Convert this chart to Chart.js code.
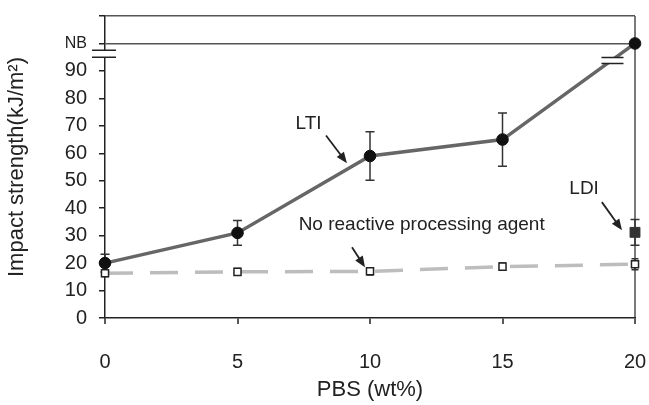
<!DOCTYPE html>
<html>
<head>
<meta charset="utf-8">
<script src="https://cdn.jsdelivr.net/npm/chart.js@4.4.1/dist/chart.umd.min.js"></script>
<style>
  html, body { margin: 0; padding: 0; background: #fff; }
  #wrap { width: 649px; height: 405px; position: relative; }
</style>
</head>
<body>
<div id="wrap"><canvas id="chart"></canvas></div>
<script>
/* data */
const pbs = [0, 5, 10, 15, 20]            // PBS wt%
const NB = 100                           // level used for the "NB" (no break) row
const yTop = 110
const lti = [20, 31, 59, 65, NB]
const ltiErr = [3.2, 4.5, 8.8, 9.7, 0]
const noAgent = [16.3, 16.8, 17, 18.7, 19.6]
const noAgentErr = [1.2, 1.2, 1.3, 1.3, 2]
const ldiX = [20]
const ldi = [31.2]
const ldiErr = [4.7]
const yTicks = [0, 10, 20, 30, 40, 50, 60, 70, 80, 90, NB, yTop]
const xTicks = [0, 5, 10, 15, 20]
// axis break marks (in data units)
const axisBreak = [95, 97.5]
const lineBreak = { x: 19.15, y: [92.7, 94.9] }
// labels with arrows, placed in data units
const notes = [
  { text: 'LTI', x: 7.68, y: 70.7, from: [8.34, 66.5], to: [9.13, 56.4] },
  { text: 'No reactive processing agent', x: 11.95, y: 33.8, from: [9.32, 25.8], to: [9.81, 18.5] },
  { text: 'LDI', x: 18.08, y: 47.2, from: [18.75, 42.2], to: [19.51, 32] }
]

const family = "'Liberation Sans', Arial, sans-serif"
const pts = (xs, ys) => xs.map((x, i) => ({ x: x, y: ys[i] }))

/* error bars, drawn under the markers */
const errorBars = {
  id: 'errorBars',
  beforeDatasetsDraw(chart) {
    const ctx = chart.ctx
    const xs = chart.scales.x, ys = chart.scales.y
    const sets = [[0, ltiErr, 4.5], [1, noAgentErr, 3.5], [2, ldiErr, 4.5]]
    ctx.save()
    ctx.strokeStyle = '#333'
    ctx.lineWidth = 1.5
    sets.forEach(([di, errs, cap]) => {
      chart.data.datasets[di].data.forEach((p, i) => {
        const e = errs[i]
        if (!e) return
        const px = xs.getPixelForValue(p.x)
        const y1 = ys.getPixelForValue(p.y + e)
        const y2 = ys.getPixelForValue(p.y - e)
        ctx.beginPath()
        ctx.moveTo(px, y1); ctx.lineTo(px, y2)
        ctx.moveTo(px - cap, y1); ctx.lineTo(px + cap, y1)
        ctx.moveTo(px - cap, y2); ctx.lineTo(px + cap, y2)
        ctx.stroke()
      })
    })
    ctx.restore()
  }
}

/* axis break, line break, labels and arrows */
const extras = {
  id: 'extras',
  afterDraw(chart) {
    const ctx = chart.ctx
    const xs = chart.scales.x, ys = chart.scales.y
    ctx.save()
    // break on the y axis
    const ax = xs.left
    const b1 = ys.getPixelForValue(axisBreak[1]), b2 = ys.getPixelForValue(axisBreak[0])
    ctx.fillStyle = '#fff'
    ctx.fillRect(ax - 3, b1, 6, b2 - b1)
    ctx.strokeStyle = '#222'
    ctx.lineWidth = 1.5
    ctx.beginPath()
    ctx.moveTo(ax - 13, b1); ctx.lineTo(ax + 11, b1)
    ctx.moveTo(ax - 13, b2); ctx.lineTo(ax + 11, b2)
    ctx.stroke()
    // break on the LTI line
    const lx = xs.getPixelForValue(lineBreak.x)
    const l1 = ys.getPixelForValue(lineBreak.y[1]), l2 = ys.getPixelForValue(lineBreak.y[0])
    ctx.fillRect(lx - 11, l1, 22, l2 - l1)
    ctx.beginPath()
    ctx.moveTo(lx - 11, l1); ctx.lineTo(lx + 11, l1)
    ctx.moveTo(lx - 11, l2); ctx.lineTo(lx + 11, l2)
    ctx.stroke()
    // labels
    ctx.fillStyle = '#222'
    ctx.font = '19px ' + family
    ctx.textAlign = 'center'
    ctx.textBaseline = 'middle'
    notes.forEach(n => {
      ctx.fillText(n.text, xs.getPixelForValue(n.x), ys.getPixelForValue(n.y))
      const x1 = xs.getPixelForValue(n.from[0]), y1 = ys.getPixelForValue(n.from[1])
      const x2 = xs.getPixelForValue(n.to[0]), y2 = ys.getPixelForValue(n.to[1])
      const a = Math.atan2(y2 - y1, x2 - x1)
      ctx.strokeStyle = '#222'
      ctx.lineWidth = 1.8
      ctx.beginPath()
      ctx.moveTo(x1, y1)
      ctx.lineTo(x2 - 8 * Math.cos(a), y2 - 8 * Math.sin(a))
      ctx.stroke()
      ctx.beginPath()
      ctx.moveTo(x2, y2)
      ctx.lineTo(x2 - 11 * Math.cos(a) + 4.5 * Math.sin(a), y2 - 11 * Math.sin(a) - 4.5 * Math.cos(a))
      ctx.lineTo(x2 - 11 * Math.cos(a) - 4.5 * Math.sin(a), y2 - 11 * Math.sin(a) + 4.5 * Math.cos(a))
      ctx.closePath()
      ctx.fill()
    })
    ctx.restore()
  }
}

const chart = new Chart(document.getElementById('chart'), {
  type: 'line',
  data: {
    datasets: [
      {
        label: 'LTI',
        data: pts(pbs, lti),
        borderColor: '#666',
        borderWidth: 3.5,
        pointStyle: 'circle',
        pointRadius: 5.8,
        pointBackgroundColor: '#111',
        pointBorderColor: '#111',
        pointBorderWidth: 1,
        tension: 0,
        clip: false
      },
      {
        label: 'No reactive processing agent',
        data: pts(pbs, noAgent),
        borderColor: '#bdbdbd',
        borderWidth: 3.5,
        borderDash: [28, 17],
        pointStyle: 'rect',
        pointRadius: 5,
        pointBackgroundColor: '#fff',
        pointBorderColor: '#222',
        pointBorderWidth: 1.5,
        tension: 0,
        clip: false
      },
      {
        label: 'LDI',
        data: pts(ldiX, ldi),
        showLine: false,
        pointStyle: 'rect',
        pointRadius: 7,
        pointBackgroundColor: '#333',
        pointBorderColor: '#333',
        clip: false
      }
    ]
  },
  options: {
    responsive: true,
    maintainAspectRatio: false,
    animation: false,
    layout: { padding: { top: 16, right: 14, left: 0, bottom: 0 } },
    plugins: { legend: { display: false }, tooltip: { enabled: false } },
    scales: {
      x: {
        type: 'linear',
        min: 0,
        max: 20,
        afterBuildTicks: s => { s.ticks = xTicks.map(v => ({ value: v })) },
        afterFit: s => { s.height = 87; s.paddingLeft = 0; s.paddingRight = 0 },
        ticks: { color: '#222', font: { size: 20, family: family }, padding: 26, maxRotation: 0 },
        grid: {
          color: c => (c.tick && c.tick.value === 20) ? '#7a7a7a' : 'rgba(0,0,0,0)',
          lineWidth: 2,
          tickColor: '#222',
          tickWidth: 1.5,
          tickLength: 6
        },
        border: { color: '#222', width: 1.5 },
        title: { display: true, text: 'PBS (wt%)', color: '#222', font: { size: 22, family: family }, padding: { top: 0, bottom: 2 } }
      },
      y: {
        type: 'linear',
        min: 0,
        max: yTop,
        afterBuildTicks: s => { s.ticks = yTicks.map(v => ({ value: v })) },
        afterFit: s => { s.width = 105; s.paddingTop = 0; s.paddingBottom = 0 },
        ticks: {
          color: '#222',
          font: c => ({ size: (c.tick && c.tick.value === NB) ? 16 : 20, family: family }),
          padding: 12,
          callback: v => v === NB ? 'NB' : (v === yTop ? '' : v)
        },
        grid: {
          color: c => (c.tick && c.tick.value >= NB) ? '#555' : 'rgba(0,0,0,0)',
          lineWidth: 1.5,
          tickColor: '#222',
          tickWidth: 1.5,
          tickLength: 6
        },
        border: { color: '#222', width: 1.5 },
        title: { display: true, text: 'Impact strength(kJ/m²)', color: '#222', font: { size: 22, family: family }, padding: { top: 4, bottom: 0 } }
      }
    }
  },
  plugins: [errorBars, extras]
})
</script>
</body>
</html>
